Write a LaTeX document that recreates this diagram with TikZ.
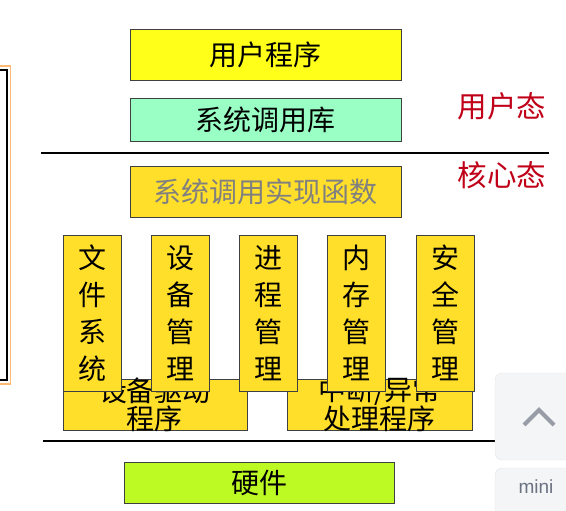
\documentclass[tikz,border=0pt]{standalone}
\usepackage{fontspec}
\newfontfamily\cjk{Noto Sans CJK SC}
\newfontfamily\uifont{Liberation Sans}
\usetikzlibrary{positioning}
\definecolor{boxyellow}{HTML}{FFFF1A}
\definecolor{boxgreen}{HTML}{99FFC4}
\definecolor{boxgold}{HTML}{FFDF2A}
\definecolor{boxlime}{HTML}{BDFA24}
\definecolor{modered}{HTML}{C00018}
\definecolor{uigray}{HTML}{F3F5F7}
\definecolor{uitext}{HTML}{6B7280}

\begin{document}
\begin{tikzpicture}[x=1pt, y=-1pt,
  blk/.style={draw=black!75, line width=0.8pt, align=center, inner sep=0pt, minimum width=271pt, font=\cjk\fontsize{28}{30}\selectfont},
  col/.style={blk, fill=boxgold, minimum width=58pt, minimum height=156pt, font=\cjk\fontsize{28}{37}\selectfont},
  low/.style={blk, fill=boxgold, minimum height=51pt},
  mode/.style={font=\cjk\fontsize{29.5}{31}\selectfont, text=modered},
  sep/.style={line width=2.2pt}]
\useasboundingbox (0,0) rectangle (566,511);
% screen frame on the left
\draw[orange!55, line width=1.4pt] (-10,66) -| (10.5,384) -- (-10,384);
\draw[black, line width=1.2pt] (-10,70) -| (7,380) -- (-10,380);
% user level
\node[blk, fill=boxyellow, minimum height=51pt] (app) at (265.5,54.5) {用户程序};
\node[blk, fill=boxgreen, minimum height=43pt]  (lib) at (265.5,119.5) {系统调用库};
\node[mode] (user) at (502,106) {用户态};
\node[mode] (kern) at (502,175) {核心态};
\coordinate (s1w) at (41,153);
\coordinate (s1e) at (549,153);
\draw[sep] (s1w) -- (s1e);
% kernel level
\node[blk, fill=boxgold, minimum height=51pt, text=black!50] (impl) at (265.5,191.5) {系统调用实现函数};
\node[low, minimum width=184pt, label={[font=\cjk\fontsize{28}{28}\selectfont, align=center]center:设备驱动\\程序}] (drv) at (155,404.5) {};
\node[low, minimum width=185pt, label={[font=\cjk\fontsize{28}{28}\selectfont, align=center]center:中断/异常\\处理程序}] (irq) at (379.5,404.5) {};
\node[col] (fs)  at (92,313)    {文\\件\\系\\统};
\node[col] (dev) at (180.5,313) {设\\备\\管\\理};
\node[col] (proc) at (268.5,313) {进\\程\\管\\理};
\node[col] (mem) at (356.5,313) {内\\存\\管\\理};
\node[col] (sec) at (445.5,313) {安\\全\\管\\理};
\coordinate (s2w) at (43,441);
\coordinate (s2e) at (549,441);
\draw[sep] (s2w) -- (s2e);
% hardware
\node[blk, fill=boxlime, minimum width=270pt, minimum height=41pt] (hw) at (259,482.5) {硬件};
% page widget on the right
\draw[draw=black!10, fill=uigray, rounded corners=7pt] (495,373) rectangle (585,460);
\draw[uitext!70, line width=4pt] (524,425) -- (539,410) -- (554,425);
\draw[draw=black!10, fill=uigray, rounded corners=7pt] (495,468) rectangle (585,540);
\node[font=\uifont\fontsize{19}{21}\selectfont, text=uitext] (mini) at (536,487) {mini};
\end{tikzpicture}
\end{document}
